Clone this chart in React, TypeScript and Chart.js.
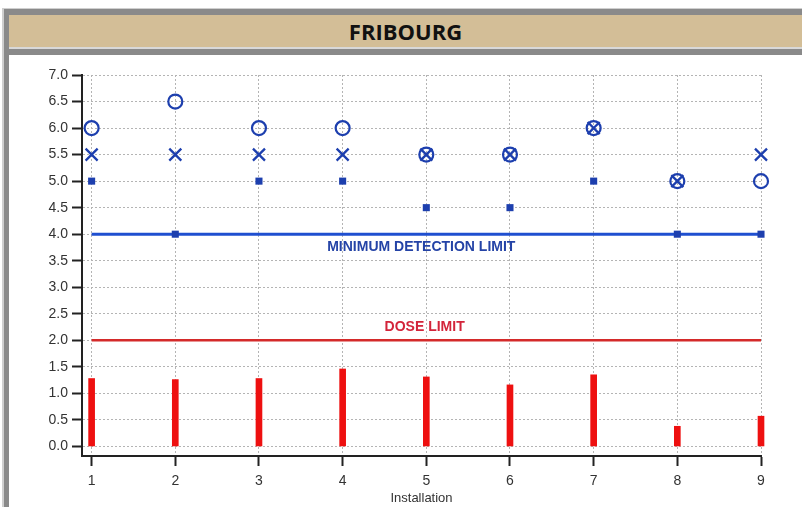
import React, { useEffect, useRef } from "react";
import { Chart, registerables } from "chart.js";

Chart.register(...registerables);

const installations = [1, 2, 3, 4, 5, 6, 7, 8, 9];
const doseValues = [1.28, 1.26, 1.28, 1.46, 1.31, 1.16, 1.35, 0.38, 0.57];
const squareValues = [5.0, 4.0, 5.0, 5.0, 4.5, 4.5, 5.0, 4.0, 4.0];
const crossValues = [5.5, 5.5, 5.5, 5.5, 5.5, 5.5, 6.0, 5.0, 5.5];
const circleValues = [6.0, 6.5, 6.0, 6.0, 5.5, 5.5, 6.0, 5.0, 5.0];
const doseLimit = 2.0;
const detectionLimit = 4.0;
const yTicks = [0, 0.5, 1, 1.5, 2, 2.5, 3, 3.5, 4, 4.5, 5, 5.5, 6, 6.5, 7];
const xTicks = [1, 2, 3, 4, 5, 6, 7, 8, 9];
const limitLabels = [
  { text: "MINIMUM DETECTION LIMIT", x: 4.94, y: 3.76, color: "#2443a6" },
  { text: "DOSE LIMIT", x: 4.98, y: 2.25, color: "#d3243a" },
];
const title = "FRIBOURG";
const xTitle = "Installation";

const BLUE = "#1d3fae";
const RED = "#ee1010";
const FONT = '"Liberation Sans", Arial, sans-serif';
const GRID = "#b4b4b4";

const labelPlugin = {
  id: "limitLabels",
  afterDatasetsDraw(chart: any) {
    const { ctx, scales } = chart;
    ctx.save();
    ctx.font = `bold 14px ${FONT}`;
    ctx.textAlign = "center";
    ctx.textBaseline = "middle";
    for (const l of limitLabels) {
      ctx.fillStyle = l.color;
      ctx.fillText(l.text, scales.x.getPixelForValue(l.x), scales.y.getPixelForValue(l.y));
    }
    ctx.restore();
  },
};

export default function App() {
  const ref = useRef<HTMLCanvasElement | null>(null);

  useEffect(() => {
    if (!ref.current) return;
    const pts = (vals: number[]) => installations.map((x, i) => ({ x, y: vals[i] }));
    const first = installations[0];
    const last = installations[installations.length - 1];
    const chart = new Chart(ref.current, {
      type: "scatter",
      data: {
        datasets: [
          {
            type: "line",
            data: [{ x: first, y: detectionLimit }, { x: last, y: detectionLimit }],
            borderColor: "#1f4fd0",
            borderWidth: 3,
            pointRadius: 0,
            showLine: true,
            clip: false,
            order: 5,
          } as any,
          {
            type: "line",
            data: [{ x: first, y: doseLimit }, { x: last, y: doseLimit }],
            borderColor: "#d42a2a",
            borderWidth: 2.5,
            pointRadius: 0,
            showLine: true,
            clip: false,
            order: 5,
          } as any,
          {
            type: "bar",
            data: pts(doseValues),
            backgroundColor: RED,
            barThickness: 6,
            clip: false,
            order: 4,
          } as any,
          {
            type: "scatter",
            data: pts(squareValues),
            pointStyle: "rect",
            pointRadius: 5,
            backgroundColor: BLUE,
            borderWidth: 0,
            clip: false,
            order: 3,
          } as any,
          {
            type: "scatter",
            data: pts(crossValues),
            pointStyle: "crossRot",
            pointRadius: 8.5,
            borderColor: BLUE,
            borderWidth: 2.3,
            clip: false,
            order: 2,
          } as any,
          {
            type: "scatter",
            data: pts(circleValues),
            pointStyle: "circle",
            pointRadius: 7,
            borderColor: BLUE,
            backgroundColor: "rgba(0,0,0,0)",
            borderWidth: 2.2,
            clip: false,
            order: 1,
          } as any,
        ],
      },
      options: {
        responsive: false,
        animation: false,
        devicePixelRatio: 1,
        layout: { padding: { top: 75, right: 41, left: 0, bottom: 0 } },
        plugins: { legend: { display: false }, tooltip: { enabled: false } },
        scales: {
          x: {
            type: "linear",
            min: 0.885,
            max: 9,
            offset: false,
            afterBuildTicks: (s: any) => {
              s.ticks = xTicks.map((v) => ({ value: v }));
            },
            afterFit: (s: any) => {
              s.height = 51;
            },
            grid: {
              offset: false,
              color: GRID,
              lineWidth: 1,
              tickLength: 10,
              tickColor: "#222",
              tickWidth: 2,
            },
            border: { display: true, color: "#222", width: 2, dash: [2, 2] },
            ticks: {
              color: "#333",
              font: { family: FONT, size: 14 },
              padding: 7,
              maxRotation: 0,
              callback: (v: any) => String(v),
            },
            title: {
              display: true,
              text: xTitle,
              color: "#333",
              font: { family: FONT, size: 13 },
              padding: { top: 0, bottom: 1 },
            },
          },
          y: {
            type: "linear",
            min: -0.18,
            max: 7,
            afterBuildTicks: (s: any) => {
              s.ticks = yTicks.map((v) => ({ value: v }));
            },
            afterFit: (s: any) => {
              s.width = 82;
            },
            grid: {
              color: GRID,
              lineWidth: 1,
              tickLength: 10,
              tickColor: "#222",
              tickWidth: 2,
            },
            border: { display: true, color: "#222", width: 2, dash: [2, 2] },
            ticks: {
              color: "#333",
              font: { family: FONT, size: 14 },
              padding: 4,
              callback: (v: any) => Number(v).toFixed(1),
            },
          },
        },
      },
      plugins: [labelPlugin],
    });
    return () => chart.destroy();
  }, []);

  const abs = (s: React.CSSProperties): React.CSSProperties => ({ position: "absolute", ...s });

  return (
    <div style={abs({ left: 0, top: 0, width: 802, height: 507, background: "#fff", overflow: "hidden" })}>
      <div style={abs({ left: 2, top: 8, width: 800, height: 1, background: "#cfcfcf" })} />
      <div style={abs({ left: 2, top: 8, width: 2, height: 499, background: "#cfcfcf" })} />
      <div style={abs({ left: 4, top: 9, width: 798, height: 6, background: "#8a8a8a" })} />
      <div style={abs({ left: 4, top: 9, width: 5, height: 498, background: "#8a8a8a" })} />
      <div
        style={abs({
          left: 9,
          top: 15,
          width: 793,
          height: 32,
          background: "#d3be97",
          display: "flex",
          alignItems: "center",
          justifyContent: "center",
          fontFamily: '"Open Sans", sans-serif',
          fontWeight: 700,
          fontSize: 22,
          color: "#111",
        })}
      >
        {title}
      </div>
      <div style={abs({ left: 9, top: 47, width: 793, height: 2, background: "#d8d8d8" })} />
      <div style={abs({ left: 4, top: 49, width: 798, height: 6, background: "#8a8a8a" })} />
      <canvas ref={ref} width={802} height={507} style={abs({ left: 0, top: 0, width: 802, height: 507 })} />
    </div>
  );
}
